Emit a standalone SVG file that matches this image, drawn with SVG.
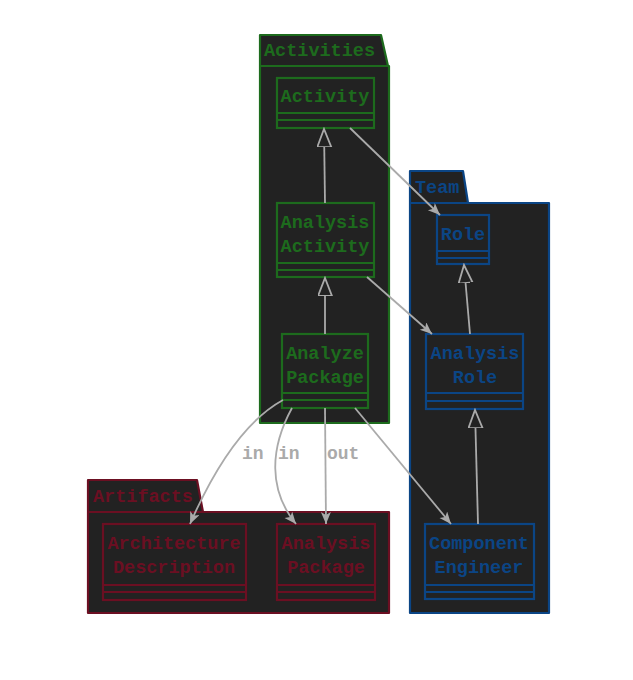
<svg xmlns="http://www.w3.org/2000/svg" width="633" height="680" viewBox="0 0 633 680">
<style>
.pkg{fill:#222;stroke-width:2.2;stroke-linejoin:round}
.cls{fill:#222;stroke-width:2.2}
.sep{fill:none;stroke-width:2}
.g{stroke:#1d6b1d}
.gt{fill:#1d6b1d}
.b{stroke:#0b4585}
.bt{fill:#0b4585}
.r{stroke:#6b0f22}
.rt{fill:#6b0f22}
text{font-family:"Liberation Mono","Courier New",monospace;font-weight:bold;font-size:18.5px}
.c{text-anchor:middle}
.e{fill:none;stroke:#aaa;stroke-width:1.8}
.lbl{fill:#aaa;font-size:18px}
</style>
<defs>
<marker id="tri" markerUnits="userSpaceOnUse" markerWidth="20" markerHeight="16" refX="18" refY="7" orient="auto" viewBox="0 0 20 16">
<path d="M0,0 L18,7 L0,14 z" fill="#222" stroke="#aaa" stroke-width="1.8"/>
</marker>
<marker id="arr" markerUnits="userSpaceOnUse" markerWidth="14" markerHeight="12" refX="12" refY="5" orient="auto" viewBox="0 0 14 12">
<path d="M0,0 L12,5 L0,10 L3,5 z" fill="#aaa"/>
</marker>
</defs>

<g id="pkg-activities">
<path class="pkg g" d="M260,35 L381,35 L388,66 L260,66 z"/>
<rect class="pkg g" x="260" y="66" width="129" height="357"/>
<text class="gt" x="264" y="56">Activities</text>
</g>
<g id="pkg-team">
<path class="pkg b" d="M410,171 L463,171 L468,203 L410,203 z"/>
<rect class="pkg b" x="410" y="203" width="139" height="410"/>
<text class="bt" x="415" y="193">Team</text>
</g>
<g id="pkg-artifacts">
<path class="pkg r" d="M88,480 L197,480 L203,512 L88,512 z"/>
<rect class="pkg r" x="88" y="512" width="301" height="101"/>
<text class="rt" x="93" y="502">Artifacts</text>
</g>

<g id="activity">
<rect class="cls g" x="277" y="78" width="97" height="50"/>
<path class="sep g" d="M277,113 H374 M277,120 H374"/>
<text class="gt c" x="325" y="102">Activity</text>
</g>
<g id="analysis-activity">
<rect class="cls g" x="277" y="203" width="97" height="74"/>
<path class="sep g" d="M277,263 H374 M277,270 H374"/>
<text class="gt c" x="325" y="228">Analysis</text>
<text class="gt c" x="325" y="252">Activity</text>
</g>
<g id="analyze-package">
<rect class="cls g" x="282" y="334" width="86" height="74"/>
<path class="sep g" d="M282,393 H368 M282,400 H368"/>
<text class="gt c" x="325" y="359">Analyze</text>
<text class="gt c" x="325" y="383">Package</text>
</g>

<g id="role">
<rect class="cls b" x="437" y="215" width="52" height="49"/>
<path class="sep b" d="M437,251 H489 M437,258 H489"/>
<text class="bt c" x="463" y="240">Role</text>
</g>
<g id="analysis-role">
<rect class="cls b" x="426" y="334" width="97" height="75"/>
<path class="sep b" d="M426,393 H523 M426,401 H523"/>
<text class="bt c" x="475" y="359">Analysis</text>
<text class="bt c" x="475" y="383">Role</text>
</g>
<g id="component-engineer">
<rect class="cls b" x="425" y="524" width="109" height="75"/>
<path class="sep b" d="M425,585 H534 M425,592 H534"/>
<text class="bt c" x="479" y="549">Component</text>
<text class="bt c" x="479" y="573">Engineer</text>
</g>

<g id="architecture-description">
<rect class="cls r" x="103" y="524" width="143" height="76"/>
<path class="sep r" d="M103,585 H246 M103,592 H246"/>
<text class="rt c" x="174" y="549">Architecture</text>
<text class="rt c" x="174" y="573">Description</text>
</g>
<g id="analysis-package">
<rect class="cls r" x="277" y="524" width="98" height="76"/>
<path class="sep r" d="M277,585 H375 M277,592 H375"/>
<text class="rt c" x="326" y="549">Analysis</text>
<text class="rt c" x="326" y="573">Package</text>
</g>

<g id="connectors">
<path class="e" d="M325,203 L324,129" marker-end="url(#tri)"/>
<path class="e" d="M325,334 L325,278" marker-end="url(#tri)"/>
<path class="e" d="M470,334 L464,265" marker-end="url(#tri)"/>
<path class="e" d="M478,524 L475,410" marker-end="url(#tri)"/>
<path class="e" d="M350,128 L440,215" marker-end="url(#arr)"/>
<path class="e" d="M367,277 L432,334" marker-end="url(#arr)"/>
<path class="e" d="M355,408 L451,524" marker-end="url(#arr)"/>
<path class="e" d="M283,400 Q232,428 190,524" marker-end="url(#arr)"/>
<path class="e" d="M292,408 C270,448 268,490 296,524" marker-end="url(#arr)"/>
<path class="e" d="M325,408 L326,524" marker-end="url(#arr)"/>
<text class="lbl" x="242" y="459">in</text>
<text class="lbl" x="278" y="459">in</text>
<text class="lbl" x="327" y="459">out</text>
</g>
</svg>
